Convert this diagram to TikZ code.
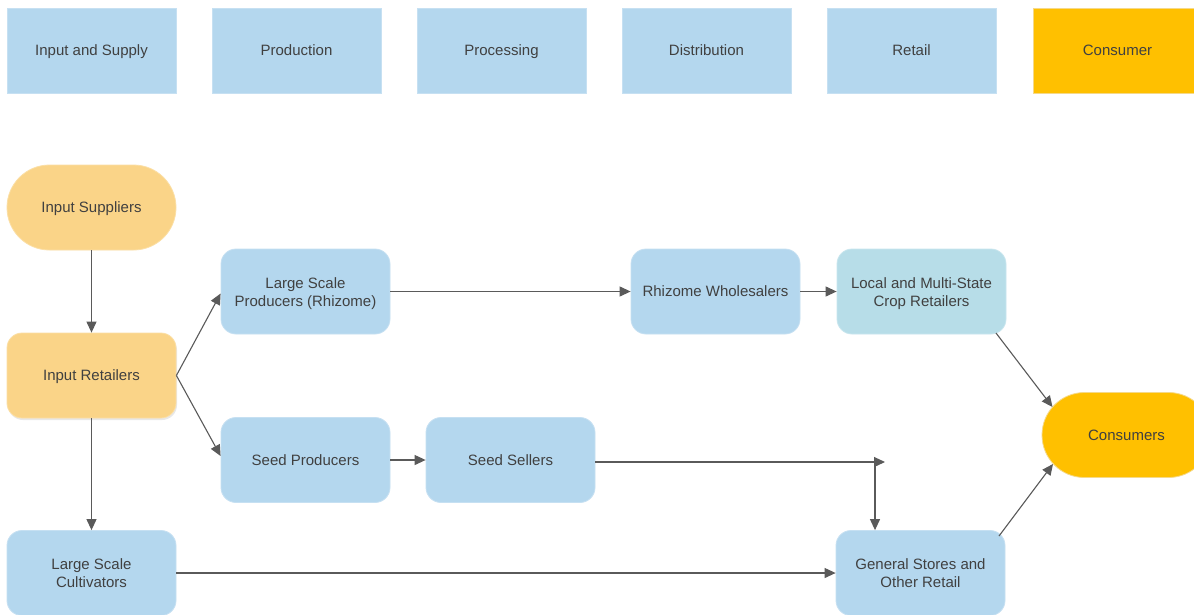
\documentclass[tikz,border=0pt]{standalone}
\usepackage{fontspec}
\setmainfont{Liberation Sans}
\usetikzlibrary{arrows.meta,calc,shadows}
\definecolor{hblue}{HTML}{B4D7EE}
\definecolor{hbord}{HTML}{C6E0F2}
\definecolor{lorange}{HTML}{FAD488}
\definecolor{obord}{HTML}{FBDFA6}
\definecolor{amber}{HTML}{FFC000}
\definecolor{abord}{HTML}{F5D98A}
\definecolor{tealb}{HTML}{B7DDE8}
\definecolor{tbord}{HTML}{C9E6EE}
\definecolor{linegray}{HTML}{5A5A5A}
\definecolor{txt}{HTML}{404040}
\tikzset{
  base/.style={minimum width=169pt, minimum height=85pt, inner sep=2pt, align=center,
    font=\fontsize{15}{18}\selectfont, text=txt, line width=0.8pt, text height=14pt, text depth=3.5pt},
  multi/.style={text height=33pt, text depth=3.5pt},
  header/.style={base, rectangle, fill=hblue, draw=hbord},
  box/.style={base, rectangle, rounded corners=15pt, fill=hblue, draw=hbord},
  stadium/.style={base, rectangle, rounded corners=42.5pt},
  arr/.style={draw=linegray, line width=1.1pt, -{Triangle[length=11pt,width=10pt]}},
}
\begin{document}
\begin{tikzpicture}[x=1pt,y=-1pt]
\useasboundingbox (0,0) rectangle (1194,614);
\clip (0,0) rectangle (1194,614);
\fill[white] (0,0) rectangle (1194,614);
% headers
\node[header] (h1) at (91.5,50.5) {Input and Supply};
\node[header] (h2) at (296.5,50.5) {Production};
\node[header] (h3) at (501.5,50.5) {Processing};
\node[header] (h4) at (706.5,50.5) {Distribution};
\node[header] (h5) at (911.5,50.5) {Retail};
\node[header, fill=amber, draw=abord] (h6) at (1117.5,50.5) {Consumer};
% nodes
\node[stadium, fill=lorange, draw=obord] (is) at (91.5,207.5) {Input Suppliers};
\node[box, fill=lorange, draw=obord, drop shadow={shadow xshift=1pt, shadow yshift=-2pt, opacity=0.18}] (ir) at (91.5,375.5) {Input Retailers};
\node[box, multi] (lsc) at (91.5,573) {Large Scale\\Cultivators};
\node[box, multi] (lsp) at (305.5,291.5) {Large Scale\\Producers (Rhizome)};
\node[box] (sp) at (305.5,460) {Seed Producers};
\node[box] (ss) at (510.5,460) {Seed Sellers};
\node[box] (rw) at (715.5,291.5) {Rhizome Wholesalers};
\node[box, multi, fill=tealb, draw=tbord] (lms) at (921.5,291.5) {Local and Multi-State\\Crop Retailers};
\node[box, multi] (gs) at (920.5,573) {General Stores and\\Other Retail};
\node[stadium, fill=amber, draw=abord] (cons) at (1126.5,435) {Consumers};
% junction points
\coordinate (jh) at (885,462);
\coordinate (jv) at (875,462);
% connectors
\draw[arr] (is) -- (ir);
\draw[arr] (ir.east) -- ($(lsp.west)+(0,2)$);
\draw[arr] (ir.east) -- ($(sp.west)+(0,-4)$);
\draw[arr] (ir) -- (lsc);
\draw[arr] (lsp) -- (rw);
\draw[arr] (rw) -- (lms);
\draw[arr] (sp) -- (ss);
\draw[arr] ($(lms.center)+(74.5,41.5)$) -- ($(cons.center)+(-74,-28)$);
\draw[arr] ($(gs.center)+(78.5,-37)$) -- ($(cons.center)+(-73.5,29)$);
\draw[arr] ($(ss.east)+(0,2)$) -- (jh);
\draw[arr] (jv) -- (jv |- gs.north);
\draw[arr] (lsc) -- (gs);
\end{tikzpicture}
\end{document}
